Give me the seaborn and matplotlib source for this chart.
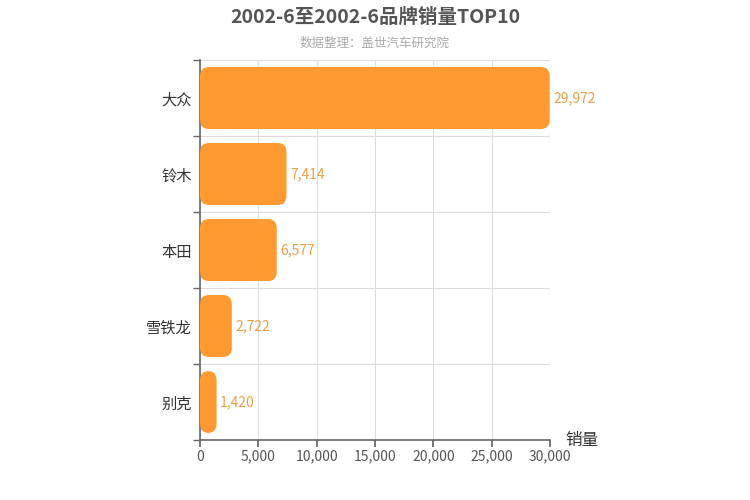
import matplotlib
matplotlib.use("Agg")
import matplotlib.pyplot as plt
import seaborn as sns
import pandas as pd
from matplotlib.patches import FancyBboxPatch
from matplotlib.ticker import FuncFormatter, MultipleLocator

brands = ["大众", "铃木", "本田", "雪铁龙", "别克"]
sales = [29972, 7414, 6577, 2722, 1420]
title = "2002-6至2002-6品牌销量TOP10"
subtitle = "数据整理：盖世汽车研究院"

sns.set_theme(style="white")
plt.rcParams['font.family'] = ['Noto Sans CJK SC', 'DejaVu Sans']

df = pd.DataFrame({"brand": brands, "sales": sales})
fig = plt.figure(figsize=(7.5, 5), dpi=100)
ax = fig.add_axes([200/750, 1-440/500, 350/750, 380/500])

sns.barplot(data=df, x="sales", y="brand", ax=ax, color="#FF9A33",
            width=62/76, saturation=1, zorder=3)

ax.set_xlim(0, 30000)
ax.set_ylim(4.5, -0.5)

# rounded bars
xu_per_px = 30000/350
yu_per_px = 5/380
r_px = 9
for p in list(ax.patches):
    x, y = p.get_x(), p.get_y()
    w, h = p.get_width(), p.get_height()
    fb = FancyBboxPatch((x, y), w, h,
                        boxstyle=f"round,pad=0,rounding_size={r_px*xu_per_px}",
                        mutation_aspect=yu_per_px/xu_per_px,
                        facecolor="#FF9A33", edgecolor="none", zorder=3)
    p.remove()
    ax.add_patch(fb)

for i, v in enumerate(sales):
    ax.text(v + 300, i, f"{v:,}", va="center", ha="left", fontsize=10,
            color="#E8A048", zorder=4)

ax.xaxis.set_major_locator(MultipleLocator(5000))
ax.xaxis.set_major_formatter(FuncFormatter(lambda v, p: f"{int(v):,}"))
ax.set_yticks(range(len(brands)))
ax.set_yticklabels(brands)
ax.set_yticks([i + 0.5 for i in range(-1, len(brands))], minor=True)

ax.grid(axis="x", color="#dddddd", linewidth=0.8, zorder=0)
ax.grid(axis="y", which="minor", color="#dddddd", linewidth=0.8, zorder=0)
ax.set_axisbelow(True)

for s in ["top", "right"]:
    ax.spines[s].set_visible(False)
for s in ["left", "bottom"]:
    ax.spines[s].set_color("#666666")
    ax.spines[s].set_linewidth(1.2)

ax.tick_params(axis="y", which="major", length=0, labelsize=11, labelcolor="#333333", pad=6)
ax.tick_params(axis="y", which="minor", length=5, color="#666666", left=True)
ax.tick_params(axis="x", which="major", length=5, color="#666666", bottom=True,
               labelsize=10, labelcolor="#555555", pad=2)

ax.set_xlabel("")
ax.set_ylabel("")
fig.text(565/750, 1-441/500, "销量", fontsize=12, color="#333333", ha="left", va="center")

fig.text(0.5, 1-17/500, title, ha="center", va="center", fontsize=14,
         fontweight="bold", color="#555555")
fig.text(0.5, 1-43/500, subtitle, ha="center", va="center", fontsize=9,
         color="#aaaaaa")

fig.savefig("out.png", dpi=100)
